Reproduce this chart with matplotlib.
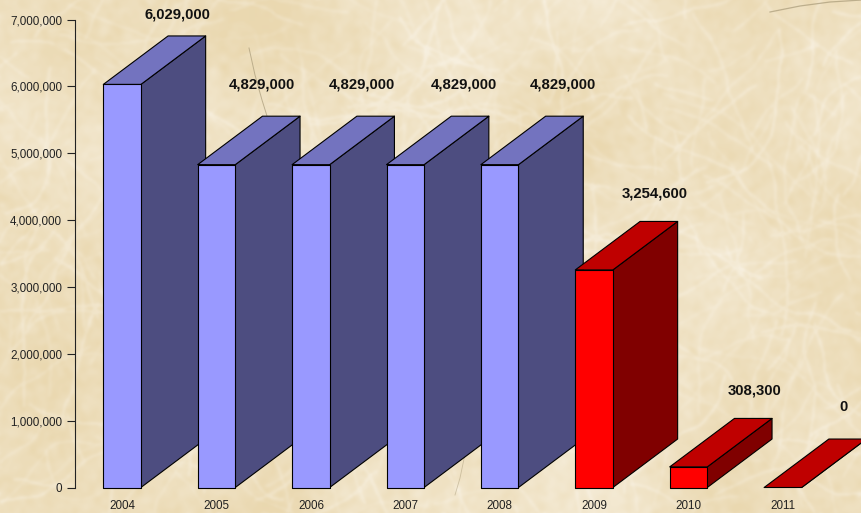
import numpy as np
import matplotlib
matplotlib.use('Agg')
import matplotlib.pyplot as plt
from matplotlib.patches import Polygon
from matplotlib.ticker import FuncFormatter

years = ['2004', '2005', '2006', '2007', '2008', '2009', '2010', '2011']
values = [6029000, 4829000, 4829000, 4829000, 4829000, 3254600, 308300, 0]
is_red = [False, False, False, False, False, True, True, True]

# value label placement, relative to the back corner of each bar
label_dx = [0.585, 0.485, 0.538, 0.617, 0.665, 0.644, 0.697, 0.644]
label_dy = [320000, 478000, 478000, 478000, 478000, 420000, 420000, 478000]

blue_faces = ('#9999FF', '#4D4D80', '#7373BF')
red_faces = ('#FF0000', '#800000', '#BF0000')

W, H = 862, 514
BAR_W = 0.398
DEPTH_X = 0.686
DEPTH_Y = 725000

plt.rcParams['font.family'] = ['Liberation Sans', 'DejaVu Sans']


def smooth(img, sigma):
    # gaussian blur through the FFT, wraps around the edges
    fy = np.fft.fftfreq(img.shape[0])[:, None]
    fx = np.fft.rfftfreq(img.shape[1])[None, :]
    kernel = np.exp(-2 * (np.pi * sigma) ** 2 * (fx ** 2 + fy ** 2))
    return np.fft.irfft2(np.fft.rfft2(img) * kernel, s=img.shape)


def paper_texture():
    rng = np.random.default_rng(7)
    blotch = smooth(rng.normal(size=(H, W)), 40)
    blotch /= blotch.std()
    grain = smooth(rng.normal(size=(H, W)), 3)
    grain /= grain.std()

    # long pale fibres laid down as wandering strokes
    fibres = np.zeros((H, W))
    for _ in range(420):
        x, y = rng.uniform(0, W), rng.uniform(0, H)
        angle = rng.uniform(0, 2 * np.pi)
        strength = rng.uniform(0.3, 1.0)
        for _ in range(int(rng.uniform(40, 200))):
            angle += rng.normal(0, 0.06)
            x += np.cos(angle)
            y += np.sin(angle)
            if 0 <= x < W and 0 <= y < H:
                fibres[int(y), int(x)] = max(fibres[int(y), int(x)], strength)
    fibres = np.clip(smooth(fibres, 1.5) * 3.0, 0, 1)

    tan = np.array([234, 216, 176], dtype=float)
    pale = np.array([247, 239, 222], dtype=float)
    mix = np.clip(0.34 + 0.12 * blotch + 0.06 * grain + 0.36 * fibres, 0, 1)
    return (tan + (pale - tan) * mix[..., None]) / 255


def draw_bar(ax, x, value, faces):
    front, side, top = faces
    x0, x1 = x - BAR_W / 2, x + BAR_W / 2
    outline = dict(edgecolor='black', linewidth=0.8, joinstyle='round', clip_on=False)
    # side and top go down first, front face sits on top of them
    ax.add_patch(Polygon([(x1, 0), (x1 + DEPTH_X, DEPTH_Y), (x1 + DEPTH_X, value + DEPTH_Y), (x1, value)],
                         facecolor=side, **outline))
    ax.add_patch(Polygon([(x0, value), (x1, value), (x1 + DEPTH_X, value + DEPTH_Y), (x0 + DEPTH_X, value + DEPTH_Y)],
                         facecolor=top, **outline))
    if value > 0:
        ax.add_patch(Polygon([(x0, 0), (x1, 0), (x1, value), (x0, value)], facecolor=front, **outline))


fig = plt.figure(figsize=(W / 100, H / 100), dpi=100)

bg = fig.add_axes([0, 0, 1, 1], zorder=0)
bg.imshow(paper_texture(), aspect='auto', interpolation='bilinear')
# a few dark stray fibres
bg.plot([249, 255, 262, 267], [48, 75, 100, 116], color='#A89A78', lw=0.7, alpha=0.7)
bg.plot([770, 800, 830, 862], [12, 6, 2, 0], color='#A89A78', lw=0.9, alpha=0.7)
bg.plot([455, 460, 468], [495, 478, 440], color='#A89A78', lw=0.6, alpha=0.5)
bg.set_xlim(0, W)
bg.set_ylim(H, 0)
bg.axis('off')

ax = fig.add_axes([75 / W, 1 - 487.5 / H, (W - 75) / W, 468 / H], zorder=1)
ax.patch.set_alpha(0)
ax.set_xlim(-0.499, 7.838)
ax.set_ylim(0, 7000000)

for i, (year, value) in enumerate(zip(years, values)):
    draw_bar(ax, i, value, red_faces if is_red[i] else blue_faces)
    ax.text(i + label_dx[i], value + DEPTH_Y + label_dy[i], f'{value:,}', ha='center', va='center',
            fontsize=10.7, fontweight='bold', color='#111111', clip_on=False)

for side in ('top', 'right', 'bottom'):
    ax.spines[side].set_visible(False)
ax.spines['left'].set_linewidth(0.8)
ax.spines['left'].set_color('#222222')

ax.set_yticks(range(0, 7000001, 1000000))
ax.yaxis.set_major_formatter(FuncFormatter(lambda v, _: f'{int(v):,}'))
ax.tick_params(axis='y', length=5.8, width=0.8, color='#222222', labelsize=8.4, labelcolor='#222222', pad=3.5)
ax.set_xticks(range(len(years)))
ax.set_xticklabels(years)
ax.tick_params(axis='x', length=0, labelsize=8.4, labelcolor='#222222', pad=9)

fig.savefig('out.png', dpi=100)
